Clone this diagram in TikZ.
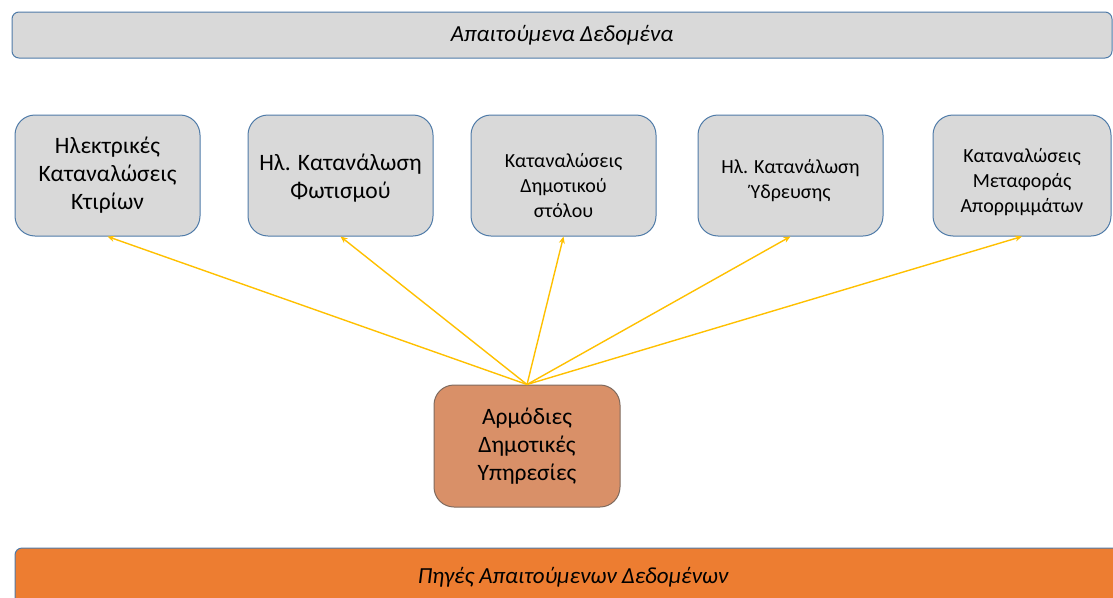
\documentclass[tikz,border=0pt]{standalone}
\usepackage{fontspec}
\setmainfont{Carlito}
\usetikzlibrary{arrows.meta}
\definecolor{boxgray}{HTML}{D9D9D9}
\definecolor{boxline}{HTML}{4F7BA8}
\definecolor{srcfill}{HTML}{D99068}
\definecolor{srcline}{HTML}{7F6A5E}
\definecolor{barorange}{HTML}{ED7D31}
\definecolor{linkyellow}{HTML}{FFC000}
\tikzset{
  bar/.style={draw=boxline, line width=1pt, rounded corners=7pt, inner sep=0pt,
    font=\fontsize{23}{27}\selectfont\itshape},
  databox/.style={draw=boxline, line width=1pt, fill=boxgray, rounded corners=20pt,
    minimum width=185pt, minimum height=121pt, inner sep=0pt},
  bigtext/.style={align=center, inner sep=0pt, font=\fontsize{23.5}{28}\selectfont},
  smalltext/.style={align=center, inner sep=0pt, font=\fontsize{20}{25}\selectfont},
  link/.style={draw=linkyellow, line width=1.4pt, -{Stealth[length=7pt,width=6pt]}},
}
\begin{document}
\begin{tikzpicture}[x=1pt,y=-1pt]
\useasboundingbox (0,0) rectangle (1113,597);
\clip (0,0) rectangle (1113,597);
% header bar
\node[bar, fill=boxgray, minimum width=1100pt, minimum height=46pt] (top) at (562,35) {Απαιτούμενα Δεδομένα};
% required data boxes
\node[databox] (b1) at (107.5,175.5) {};
\node[databox] (b2) at (340.5,175.5) {};
\node[databox] (b3) at (563.5,175.5) {};
\node[databox] (b4) at (790.5,175.5) {};
\node[databox, minimum width=178pt] (b5) at (1022,175.5) {};
\node[bigtext] (t1) at (b1.center) {Ηλεκτρικές\\Καταναλώσεις\\Κτιρίων};
\node[bigtext] (t2) at ([yshift=-3pt]b2.center) {Ηλ. Κατανάλωση\\Φωτισμού};
\node[smalltext] (t3) at ([yshift=-10pt]b3.center) {Καταναλώσεις\\Δημοτικού\\στόλου};
\node[smalltext] (t4) at ([yshift=-5.5pt]b4.center) {Ηλ. Κατανάλωση\\Ύδρευσης};
\node[smalltext] (t5) at ([yshift=-6.5pt]b5.center) {Καταναλώσεις\\Μεταφοράς\\Απορριμμάτων};
% source box
\node[draw=srcline, line width=1pt, fill=srcfill, rounded corners=20pt,
  minimum width=186pt, minimum height=122pt, inner sep=0pt]
  (src) at (527,446) {};
\node[bigtext] (ts) at (src.center) {Αρμόδιες\\Δημοτικές\\Υπηρεσίες};
% footer bar
\node[bar, fill=barorange, minimum width=1116pt, minimum height=58pt] (bot) at (573,577) {Πηγές Απαιτούμενων Δεδομένων};
% links from the source to each data box
\foreach \b in {b1,b2,b3,b4,b5}
  \draw[link] (src.north) -- (\b.south);
\end{tikzpicture}
\end{document}
